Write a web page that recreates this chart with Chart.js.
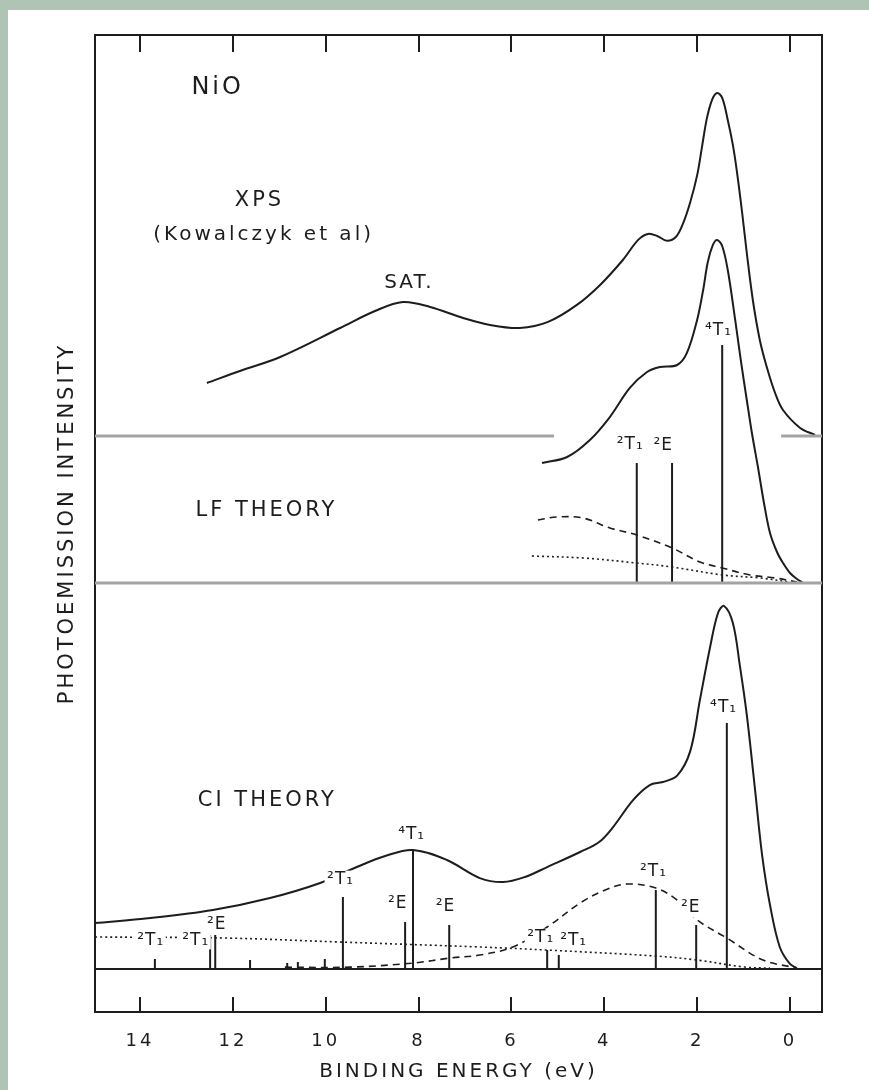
<!DOCTYPE html>
<html>
<head>
<meta charset="utf-8">
<title>NiO photoemission</title>
<script src="https://cdn.jsdelivr.net/npm/chart.js@4.4.1/dist/chart.umd.min.js"></script>
<style>
  body { margin: 0; background: #afc4b5; }
  #wrap { position: absolute; left: 8px; top: 10px; width: 861px; height: 1080px; background: #fff; }
</style>
</head>
<body>
<div id="wrap"><canvas id="myChart" width="861" height="1080"></canvas></div>
<script>
// binding energy ticks (eV)
const energyTicks = [14, 12, 10, 8, 6, 4, 2, 0];

// baselines of the three stacked panels (arbitrary intensity units)
const xpsBase = 57.07;
const lfBase = 41.33;
const ciBase = 0;

// XPS (Kowalczyk et al)
const xpsEnergy = [12.56, 11.85, 10.98, 9.69, 8.94, 8.34, 7.75, 7.04, 6.46, 5.82, 5.21, 4.59, 4.09, 3.60, 3.27, 3.06, 2.86, 2.65, 2.46, 2.30, 2.15, 2.00, 1.90, 1.79, 1.68, 1.57, 1.46, 1.34, 1.23, 1.14, 1.03, 0.93, 0.80, 0.65, 0.50, 0.32, 0.15, -0.22, -0.54];
const xpsValue = [5.67, 6.96, 8.46, 11.56, 13.38, 14.35, 13.81, 12.63, 11.88, 11.56, 12.21, 14.03, 16.17, 18.84, 20.99, 21.63, 21.41, 20.90, 21.3, 22.8, 25.0, 27.9, 30.8, 34.0, 35.97, 36.72, 36.19, 33.83, 31.16, 28.2, 23.9, 19.59, 14.56, 10.28, 7.39, 4.60, 2.78, 0.86, 0.11];

// LF theory
const lfEnergy = [5.34, 4.80, 4.31, 3.88, 3.45, 3.08, 2.80, 2.43, 2.22, 2.00, 1.87, 1.77, 1.66, 1.57, 1.46, 1.34, 1.18, 1.06, 0.93, 0.82, 0.69, 0.56, 0.43, 0.28, 0.15, 0.0, -0.15, -0.26];
const lfValue = [12.85, 13.49, 15.31, 17.77, 20.88, 22.59, 23.13, 23.34, 24.63, 28.16, 31.37, 34.37, 36.19, 36.72, 36.08, 33.51, 28.16, 23.88, 19.59, 16.06, 12.42, 8.57, 5.35, 3.32, 2.14, 1.07, 0.43, 0.1];
const lfDashEnergy = [5.43, 5.02, 4.46, 3.88, 3.30, 2.54, 1.94, 1.46, 0.86, 0.32, -0.15];
const lfDashValue = [6.75, 7.07, 6.96, 5.89, 5.14, 3.75, 2.25, 1.61, 0.86, 0.54, 0.1];
const lfDotEnergy = [5.56, 4.46, 3.30, 2.54, 1.46, 0.65, 0.0];
const lfDotValue = [2.89, 2.68, 2.14, 1.71, 0.86, 0.54, 0.1];
const lfStickEnergy = [3.30, 2.54, 1.46];
const lfStickValue = [12.85, 12.85, 25.48];

// CI theory
const ciEnergy = [14.97, 13.78, 12.43, 11.2, 10.12, 9.33, 8.72, 8.12, 7.39, 6.68, 6.18, 5.71, 5.23, 4.52, 4.11, 3.81, 3.38, 3.02, 2.74, 2.43, 2.15, 1.94, 1.72, 1.55, 1.42, 1.23, 1.08, 0.93, 0.75, 0.60, 0.43, 0.22, 0.0, -0.15];
const ciValue = [4.93, 5.46, 6.32, 7.6, 9.21, 10.92, 12.1, 12.74, 11.67, 9.74, 9.31, 9.85, 10.92, 12.53, 13.6, 15.2, 18.09, 19.7, 20.02, 20.7, 23.3, 28.8, 34.48, 38.12, 38.87, 37.04, 32.5, 27.2, 19.1, 12.2, 6.85, 2.36, 0.54, 0.11];
const ciDashEnergy = [10.88, 9.48, 8.12, 7.32, 6.68, 5.97, 5.23, 4.52, 3.98, 3.51, 2.89, 2.43, 2.00, 1.36, 0.58, -0.15];
const ciDashValue = [0.2, 0.2, 0.64, 1.18, 1.5, 2.36, 4.5, 7.07, 8.46, 9.1, 8.67, 7.39, 5.25, 3.32, 0.96, 0.11];
const ciDotEnergy = [14.97, 12.17, 9.69, 6.68, 5.23, 2.89, 2.00, 0.97, 0.43];
const ciDotValue = [3.43, 3.32, 2.89, 2.36, 2.03, 1.39, 0.96, 0.21, 0.1];
const ciStickEnergy = [13.68, 12.49, 12.38, 11.63, 10.83, 10.6, 10.02, 9.63, 8.29, 8.12, 7.34, 5.23, 4.98, 2.89, 2.02, 1.36];
const ciStickValue = [1.07, 3.64, 3.64, 0.96, 0.64, 0.75, 1.07, 7.71, 5.03, 12.74, 4.71, 2.03, 1.5, 8.46, 4.71, 26.34];

// text placed in data coordinates (eV, intensity)
const notes = [
  { text: 'NiO', x: 12.36, y: 94.33, size: 24, ls: 3 },
  { text: 'XPS', x: 11.46, y: 82.23, size: 21, ls: 3 },
  { text: '(Kowalczyk et al)', x: 11.37, y: 78.59, size: 20, ls: 3 },
  { text: 'SAT.', x: 8.23, y: 73.45, size: 20, ls: 2 },
  { text: 'LF THEORY', x: 11.31, y: 49.14, size: 21, ls: 3 },
  { text: 'CI THEORY', x: 11.29, y: 17.99, size: 21, ls: 3 },
  { text: '²T₁', x: 3.45, y: 56.1, size: 17, ls: 1 },
  { text: '²E', x: 2.74, y: 56.0, size: 17, ls: 1 },
  { text: '⁴T₁', x: 1.55, y: 68.4, size: 17, ls: 1 },
  { text: '⁴T₁', x: 1.44, y: 27.94, size: 17, ls: 1 },
  { text: '⁴T₁', x: 8.16, y: 14.35, size: 17, ls: 1 },
  { text: '²T₁', x: 9.69, y: 9.53, size: 17, ls: 1, bg: true },
  { text: '²E', x: 8.46, y: 6.96, size: 17, ls: 1 },
  { text: '²E', x: 7.43, y: 6.64, size: 17, ls: 1 },
  { text: '²E', x: 12.36, y: 4.71, size: 17, ls: 1, bg: true },
  { text: '²T₁', x: 13.78, y: 3.1, size: 17, ls: 1, bg: true },
  { text: '²T₁', x: 12.81, y: 3.1, size: 17, ls: 1, bg: true },
  { text: '²T₁', x: 5.38, y: 3.32, size: 17, ls: 1, bg: true },
  { text: '²T₁', x: 4.67, y: 3.1, size: 17, ls: 1, bg: true },
  { text: '²T₁', x: 2.95, y: 10.39, size: 17, ls: 1 },
  { text: '²E', x: 2.15, y: 6.53, size: 17, ls: 1, bg: true }
];

const ink = '#1d1d1d';
const grey = '#a3a3a3';
const fontFamily = '"DejaVu Sans", sans-serif';

const curve = (energies, values, base) => energies.map((e, i) => ({ x: e, y: base + values[i] }));

// vertical sticks, separated by null points so the line breaks between them
const sticks = (energies, values, base) => {
  const pts = [];
  energies.forEach((e, i) => {
    pts.push({ x: e, y: base }, { x: e, y: base + values[i] }, { x: e, y: null });
  });
  return pts;
};

const lineSet = (data, extra) => Object.assign({
  data: data,
  borderColor: ink,
  borderWidth: 2,
  pointRadius: 0,
  fill: false,
  tension: 0.35
}, extra || {});

const datasets = [
  // panel baselines
  lineSet([{ x: 14.97, y: xpsBase }, { x: 5.08, y: xpsBase }, { x: 2, y: null }, { x: 0.19, y: xpsBase }, { x: -0.69, y: xpsBase }], { borderColor: grey, borderWidth: 3, tension: 0 }),
  lineSet([{ x: 14.97, y: lfBase }, { x: -0.69, y: lfBase }], { borderColor: grey, borderWidth: 3, tension: 0 }),
  lineSet([{ x: 14.97, y: ciBase }, { x: -0.69, y: ciBase }], { borderWidth: 2, tension: 0 }),
  // XPS
  lineSet(curve(xpsEnergy, xpsValue, xpsBase)),
  // LF
  lineSet(curve(lfEnergy, lfValue, lfBase)),
  lineSet(curve(lfDashEnergy, lfDashValue, lfBase), { borderDash: [7, 5], borderWidth: 1.6 }),
  lineSet(curve(lfDotEnergy, lfDotValue, lfBase), { borderDash: [2, 3], borderWidth: 1.6 }),
  lineSet(sticks(lfStickEnergy, lfStickValue, lfBase), { tension: 0 }),
  // CI
  lineSet(curve(ciEnergy, ciValue, ciBase)),
  lineSet(curve(ciDashEnergy, ciDashValue, ciBase), { borderDash: [7, 5], borderWidth: 1.6 }),
  lineSet(curve(ciDotEnergy, ciDotValue, ciBase), { borderDash: [2, 3], borderWidth: 1.6 }),
  lineSet(sticks(ciStickEnergy, ciStickValue, ciBase), { tension: 0 })
];

// wider letter spacing for axis titles and tick labels (drafting lettering)
const spacingPlugin = {
  id: 'spacing',
  beforeDraw(chart) { chart.ctx.letterSpacing = '3px'; },
  beforeDatasetsDraw(chart) { chart.ctx.letterSpacing = '0px'; }
};

// panel texts and peak labels
const notesPlugin = {
  id: 'notes',
  afterDatasetsDraw(chart) {
    const { ctx, scales } = chart;
    ctx.save();
    ctx.textAlign = 'center';
    ctx.textBaseline = 'middle';
    notes.forEach(n => {
      ctx.font = `${n.size}px ${fontFamily}`;
      ctx.letterSpacing = n.ls + 'px';
      const px = scales.x.getPixelForValue(n.x);
      const py = scales.y.getPixelForValue(n.y);
      if (n.bg) {
        const w = ctx.measureText(n.text).width;
        ctx.fillStyle = '#fff';
        ctx.fillRect(px - w / 2 - 2, py - n.size * 0.55, w + 4, n.size * 1.1);
      }
      ctx.fillStyle = ink;
      ctx.fillText(n.text, px + n.ls / 2, py);
    });
    ctx.restore();
  }
};

const frame = { display: true, color: ink, width: 2 };

const ctx = document.getElementById('myChart').getContext('2d');
const myChart = new Chart(ctx, {
  type: 'line',
  data: { datasets: datasets },
  options: {
    responsive: false,
    animation: false,
    events: [],
    layout: { padding: { top: 25, right: 47, left: 0, bottom: 0 } },
    plugins: { legend: { display: false }, tooltip: { enabled: false } },
    scales: {
      x: {
        type: 'linear',
        position: 'bottom',
        reverse: true,
        min: -0.69,
        max: 14.97,
        offset: false,
        border: frame,
        grid: { drawOnChartArea: false, drawTicks: true, tickLength: -15, color: ink, lineWidth: 2 },
        ticks: {
          stepSize: 2,
          includeBounds: false,
          padding: 34,
          color: ink,
          font: { family: fontFamily, size: 18 },
          callback: (v) => energyTicks.includes(v) ? String(v) : ''
        },
        title: {
          display: true,
          text: 'BINDING ENERGY (eV)',
          color: ink,
          font: { family: fontFamily, size: 20 },
          padding: { top: 6, bottom: 6 }
        },
        afterFit: (s) => { s.height = 78; }
      },
      x2: {
        type: 'linear',
        position: 'top',
        reverse: true,
        min: -0.69,
        max: 14.97,
        offset: false,
        border: frame,
        grid: { drawOnChartArea: false, drawTicks: true, tickLength: -17, color: ink, lineWidth: 2 },
        ticks: { stepSize: 2, includeBounds: false, display: false },
        afterFit: (s) => { s.height = 0; }
      },
      y: {
        type: 'linear',
        position: 'left',
        min: -4.6,
        max: 100,
        border: frame,
        grid: { display: false },
        ticks: { display: false },
        title: {
          display: true,
          text: 'PHOTOEMISSION INTENSITY',
          color: ink,
          font: { family: fontFamily, size: 21 },
          padding: { top: 47, bottom: 0 }
        },
        afterFit: (s) => { s.width = 87; }
      },
      y2: {
        type: 'linear',
        position: 'right',
        min: -4.6,
        max: 100,
        border: frame,
        grid: { display: false },
        ticks: { display: false },
        afterFit: (s) => { s.width = 0; }
      }
    }
  },
  plugins: [spacingPlugin, notesPlugin]
});
</script>
</body>
</html>
